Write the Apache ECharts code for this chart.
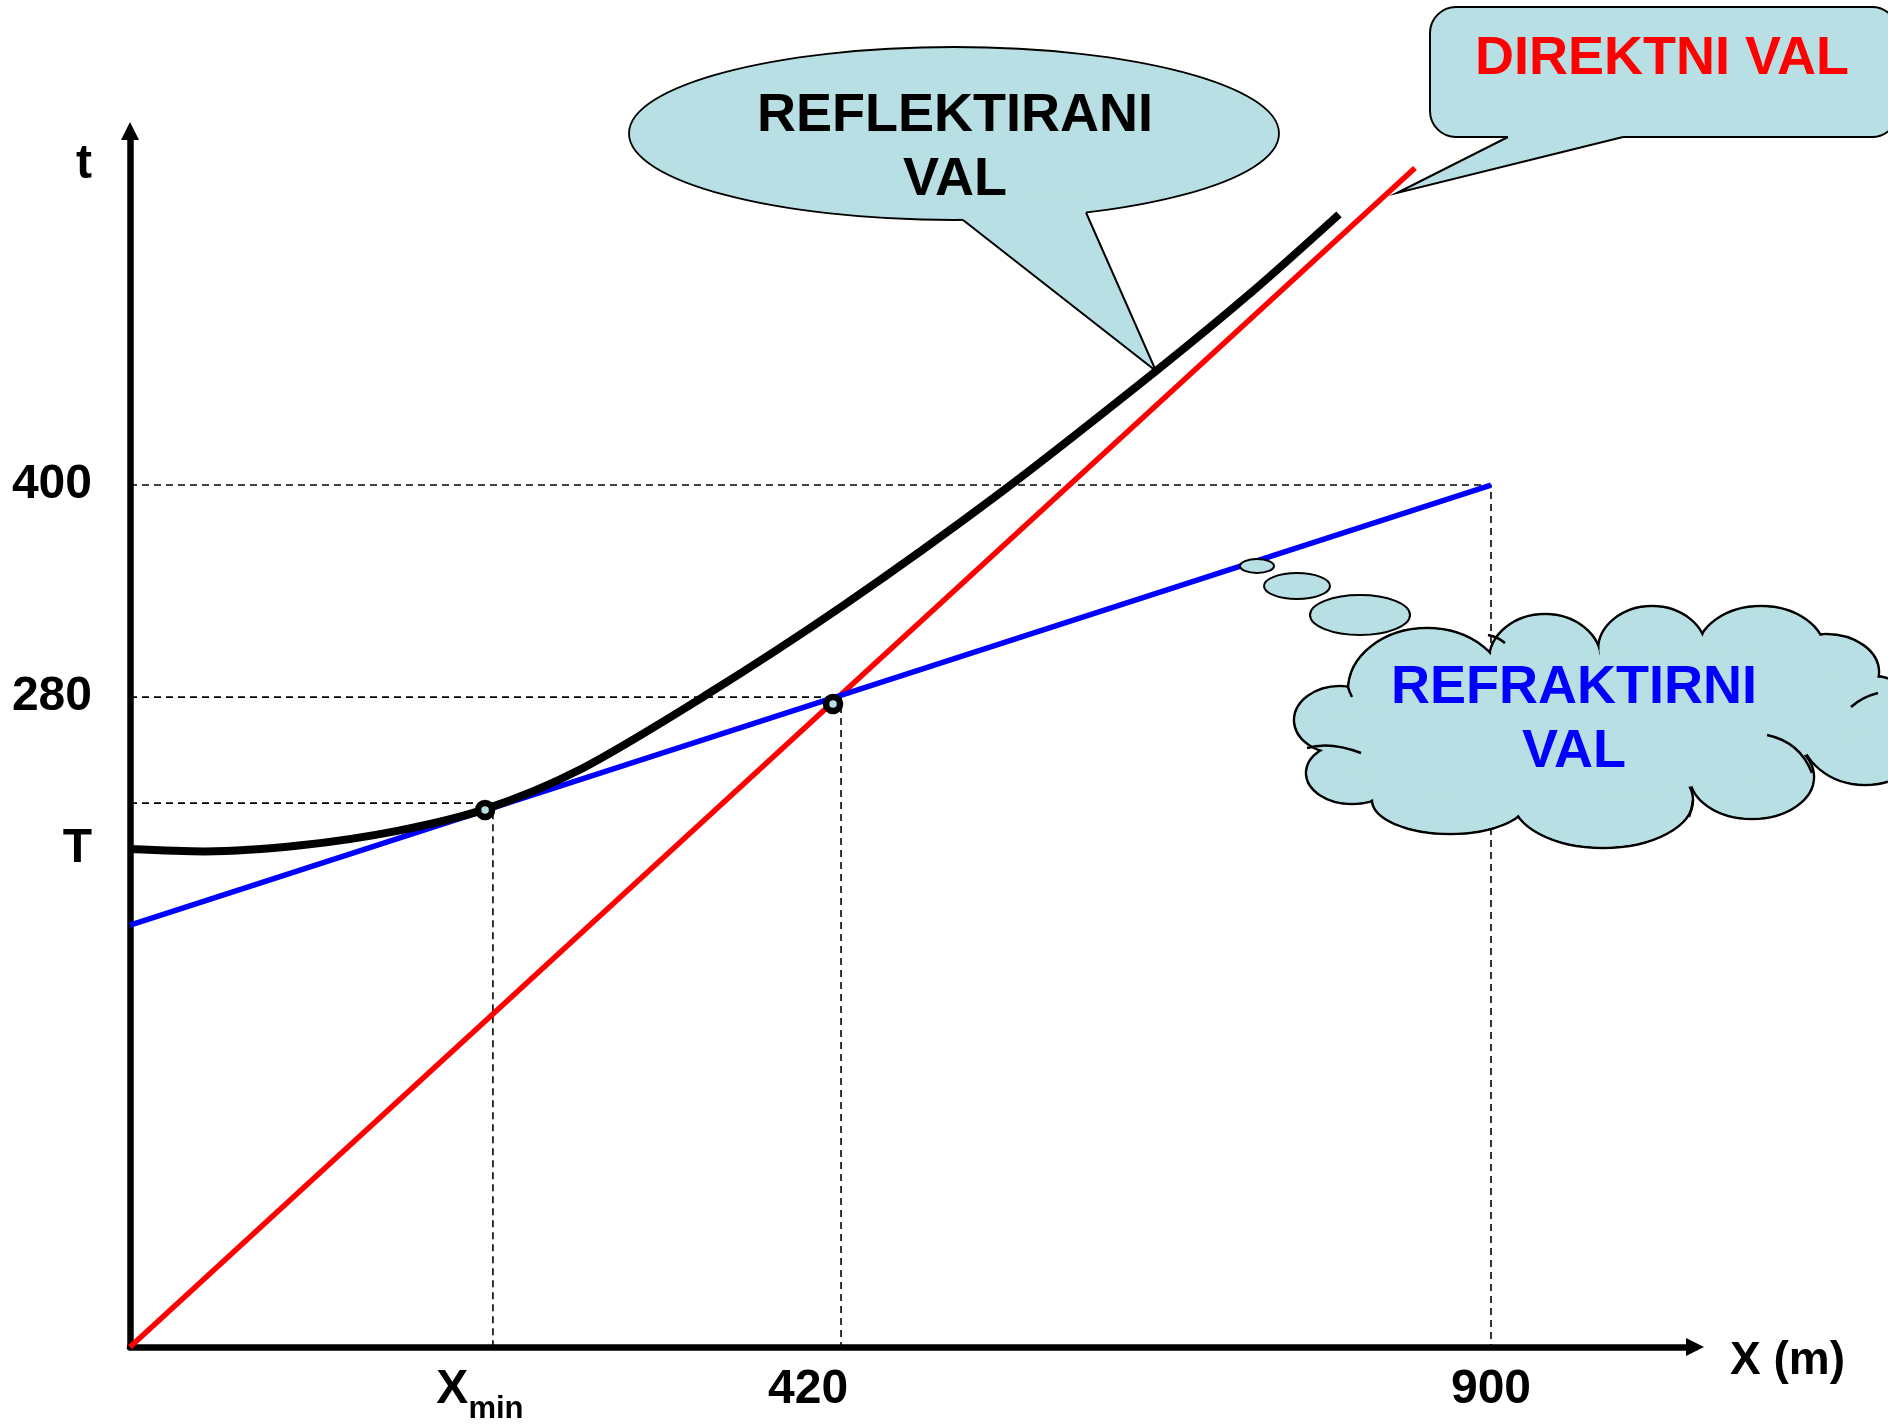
<!DOCTYPE html>
<html>
<head>
<meta charset="utf-8">
<script src="https://cdn.jsdelivr.net/npm/echarts@6/dist/echarts.min.js"></script>
<style>
  html, body { margin: 0; padding: 0; background: #fff; }
  #chart { width: 1888px; height: 1424px; }
</style>
</head>
<body>
<div id="chart"></div>
<script>
// schematic units: 900 on x and 400 on t sit where the picture puts them
const xLabelPos = [231.4, 448.4, 900];
const xLabelText = ["X_min", "420", "900"];
const yLabelPos = [548.5, 400, 301.6, 231.1];
const yLabelText = ["t", "400", "280", "T"];

const directWave = [[0, 0], [849.7, 547.1]];
const refractedWave = [[0, 195.8], [900, 400]];
const reflectedX = [0, 49.4, 113.1, 176.8, 234.9, 296.3, 379.9, 471.4, 574.9, 678.4, 742.2, 799.5];
const reflectedT = [231.1, 230.0, 232.8, 239.5, 249.6, 267.5, 302.1, 344.0, 396.1, 452.9, 489.8, 525.6];

const guide400 = [[0, 400], [900, 400], [900, 0]];
const guide280 = [[0, 301.6], [470.2, 301.6], [470.2, 0]];
const guideXmin = [[0, 252.4], [240.0, 252.4], [240.0, 0]];
const keyPoints = [[234.8, 249.2], [464.9, 298.4]];

const FONT = '"Liberation Sans", Arial, sans-serif';
const BUBBLE = "#b8dfe3";

const chart = echarts.init(document.getElementById("chart"));

function guide(data) {
  return {
    type: "line", data, symbol: "none", clip: false, silent: true,
    lineStyle: { color: "#000", width: 1.6, type: [7, 5] },
  };
}

// speech bubble pointer: filled wedge without edge, then its two sides
function pointer(fillPts, sidePts) {
  return [
    { type: "polygon", z: 22, shape: { points: fillPts }, style: { fill: BUBBLE, lineWidth: 0 } },
    { type: "polyline", z: 23, shape: { points: sidePts }, style: { stroke: "#000", lineWidth: 2, fill: null } },
  ];
}

// cloud lobes [cx, cy, rx, ry], going round the cloud
const lobes = [
  [1340, 720, 46, 34], [1352, 773, 46, 31], [1450, 800, 78, 34],
  [1603, 800, 90, 48], [1752, 777, 62, 42], [1865, 730, 65, 55],
  [1826, 672, 53, 38], [1761, 652, 64, 46], [1652, 650, 54, 44],
  [1545, 660, 56, 46], [1427, 690, 79, 62],
];
const cloud = [];
lobes.forEach(l => cloud.push({
  type: "ellipse", z: 20,
  shape: { cx: l[0], cy: l[1], rx: l[2], ry: l[3] },
  style: { fill: BUBBLE, stroke: "#000", lineWidth: 2.5 },
}));
lobes.forEach(l => cloud.push({
  type: "ellipse", z: 21,
  shape: { cx: l[0], cy: l[1], rx: l[2] - 1.4, ry: l[3] - 1.4 },
  style: { fill: BUBBLE, lineWidth: 0 },
}));
cloud.push({
  type: "polygon", z: 21,
  shape: { points: lobes.map(l => [l[0], l[1]]) },
  style: { fill: BUBBLE, lineWidth: 0 },
});
// short inner creases of the cloud [x1, y1, cpx, cpy, x2, y2]
[
  [1307, 748, 1330, 741, 1361, 753],
  [1767, 735, 1800, 742, 1812, 773],
  [1851, 707, 1862, 697, 1878, 693],
  [1488, 635, 1498, 637, 1505, 643],
  [1693, 800, 1692, 809, 1689, 817],
  [1348, 687, 1349, 691, 1352, 697],
].forEach(c => cloud.push({
  type: "bezierCurve", z: 22,
  shape: { x1: c[0], y1: c[1], cpx1: c[2], cpy1: c[3], x2: c[4], y2: c[5] },
  style: { stroke: "#000", lineWidth: 2.5, fill: null },
}));
[[1257, 566, 17, 7], [1297, 586, 33, 13], [1360, 615, 50, 20]].forEach(l => cloud.push({
  type: "ellipse", z: 20,
  shape: { cx: l[0], cy: l[1], rx: l[2], ry: l[3] },
  style: { fill: BUBBLE, stroke: "#000", lineWidth: 2 },
}));

function label(text, x, y, color) {
  return {
    type: "text", z: 30, x, y,
    style: { text, fill: color, font: "bold 54px " + FONT, align: "center", verticalAlign: "middle" },
  };
}

chart.setOption({
  animation: false,
  backgroundColor: "#fff",
  grid: { left: 130, right: 193, top: 131, bottom: 77, outerBoundsMode: "none" },
  xAxis: {
    type: "value", min: 0, max: 1034.9,
    splitLine: { show: false },
    axisTick: { show: false },
    axisLine: { lineStyle: { color: "#000", width: 6.5 }, symbol: ["none", "triangle"], symbolSize: [18, 18] },
    axisLabel: {
      customValues: xLabelPos,
      formatter: v => {
        const t = xLabelText[xLabelPos.indexOf(v)];
        return t === "X_min" ? "{X|X}{s|min}" : t;
      },
      color: "#000", fontSize: 48, fontWeight: "bold", fontFamily: FONT, margin: 19,
      rich: {
        X: { fontSize: 48, fontWeight: "bold", fontFamily: FONT, color: "#000", lineHeight: 52, verticalAlign: "top" },
        s: { fontSize: 31, fontWeight: "bold", fontFamily: FONT, color: "#000", lineHeight: 31, verticalAlign: "top", padding: [28, 0, 0, 0] },
      },
    },
    name: "X (m)", nameLocation: "end", nameGap: 35,
    nameTextStyle: { color: "#000", fontSize: 46, fontWeight: "bold", fontFamily: FONT, verticalAlign: "top", lineHeight: 28 },
  },
  yAxis: {
    type: "value", min: 0, max: 564.3,
    splitLine: { show: false },
    axisTick: { show: false },
    axisLine: { lineStyle: { color: "#000", width: 6.5 }, symbol: ["none", "triangle"], symbolSize: [18, 18] },
    axisLabel: {
      customValues: yLabelPos,
      formatter: v => yLabelText[yLabelPos.indexOf(v)],
      color: "#000", fontSize: 48, fontWeight: "bold", fontFamily: FONT, margin: 38,
      padding: [0, 0, 10, 0],
    },
  },
  series: [
    guide(guide400),
    guide(guide280),
    guide(guideXmin),
    {
      type: "line", data: directWave, symbol: "none", clip: false,
      lineStyle: { color: "#ff0000", width: 5.5 },
    },
    {
      type: "line", data: refractedWave, symbol: "none", clip: false,
      lineStyle: { color: "#0000ff", width: 5.5 },
    },
    {
      type: "line", data: reflectedX.map((x, i) => [x, reflectedT[i]]),
      symbol: "none", clip: false, smooth: 0.3,
      lineStyle: { color: "#000", width: 8, cap: "butt" },
    },
    {
      // the two marked points: only symbols, no connecting line
      type: "line", data: keyPoints, clip: false, z: 5, silent: true,
      symbol: "circle", symbolSize: 14, showSymbol: true, showAllSymbol: true,
      lineStyle: { width: 0, opacity: 0 },
      itemStyle: { color: BUBBLE, borderColor: "#000", borderWidth: 6.5, opacity: 1 },
    },
  ],
  graphic: [
    {
      type: "ellipse", z: 20,
      shape: { cx: 954, cy: 133.5, rx: 325, ry: 86.5 },
      style: { fill: BUBBLE, stroke: "#000", lineWidth: 1.8 },
    },
    ...pointer(
      [[963, 220], [1156, 371], [1086, 212.5], [1086, 196], [963, 200]],
      [[963, 220], [1156, 371], [1086, 212.5]]
    ),
    label("REFLEKTIRANI", 955, 116, "#000"),
    label("VAL", 955, 180, "#000"),
    {
      type: "rect", z: 20,
      shape: { x: 1430, y: 7, width: 468, height: 130, r: 26 },
      style: { fill: BUBBLE, stroke: "#000", lineWidth: 2 },
    },
    ...pointer(
      [[1508, 137], [1397, 193], [1623, 137], [1623, 125], [1508, 125]],
      [[1508, 137], [1397, 193], [1623, 137]]
    ),
    label("DIREKTNI VAL", 1662, 59, "#ff0000"),
    ...cloud,
    label("REFRAKTIRNI", 1574, 688, "#0000ff"),
    label("VAL", 1574, 752, "#0000ff"),
  ],
});

window.addEventListener("resize", () => chart.resize());
</script>
</body>
</html>
